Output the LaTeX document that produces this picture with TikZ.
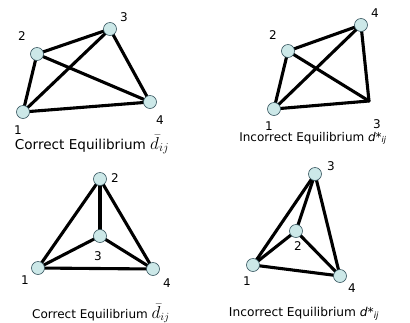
\documentclass[tikz,border=0pt]{standalone}
\usepackage{amsmath}
\usepackage{fontspec}
\setmainfont{DejaVu Sans}
\usepackage{tikz}
\pgfdeclarelayer{background}
\pgfsetlayers{background,main}
\definecolor{nodefill}{RGB}{204,232,232}
\definecolor{nodeline}{RGB}{55,85,95}

\begin{document}
\begin{tikzpicture}[x=1pt,y=-1pt,
  vtx/.style={circle,draw=nodeline,fill=nodefill,line width=0.6pt,minimum size=13pt,inner sep=0pt},
  edge/.style={line width=3.1pt,line cap=round,line join=round},
  lbl/.style={font=\fontsize{12}{12}\selectfont,inner sep=0pt},
  caption/.style={inner sep=0pt,anchor=base}]
\useasboundingbox (0,0) rectangle (410,322);

%%% p1 %%%%
%% vertices
\node[vtx] (p1) at (23,112) {};
\node[vtx] (p2) at (37,54) {};
\node[vtx] (p3) at (110,29) {};
\node[vtx] (p4) at (150,102) {};
%% edges
\begin{pgfonlayer}{background}
\draw[edge] (p1.center) to (p2.center);
\draw[edge] (p2.center) to (p3.center);
\draw[edge] (p1.center) to (p3.center);
\draw[edge] (p2.center) to (p4.center);
\draw[edge] (p3.center) to (p4.center);
\draw[edge] (p1.center) to (p4.center);
\end{pgfonlayer}
%% labels
\node[lbl] (lp1) at (18,130) {1};
\node[lbl] (lp2) at (22,36) {2};
\node[lbl] (lp3) at (124,17) {3};
\node[lbl] (lp4) at (160,120) {4};
\node[caption,font=\fontsize{13.6}{13.6}\selectfont] (cp) at (92,149)
  {Correct Equilibrium {\fontsize{18}{18}\selectfont$\bar{d}_{ij}$}};

%%% q1 %%%%
%% vertices
\node[vtx] (q1) at (274,109) {};
\node[vtx] (q2) at (288,51) {};
\coordinate (q3) at (369,101);
\node[vtx] (q4) at (361,25) {};
%% edges
\begin{pgfonlayer}{background}
\draw[edge] (q1.center) to (q2.center);
\draw[edge] (q2.center) to (q4.center);
\draw[edge] (q1.center) to (q4.center);
\draw[edge] (q2.center) to (q3);
\draw[edge] (q4.center) to (q3);
\draw[edge] (q1.center) to (q3);
\end{pgfonlayer}
%% labels
\node[lbl] (lq1) at (269,126) {1};
\node[lbl] (lq2) at (273,35) {2};
\node[lbl] (lq3) at (377,124) {3};
\node[lbl] (lq4) at (375,13) {4};
\node[caption,font=\fontsize{12}{12}\selectfont] (cq) at (313,141)
  {Incorrect Equilibrium \textit{d*\textsubscript{ij}}};

%%% p2 %%%%
%% vertices
\node[vtx] (r1) at (38,268) {};
\node[vtx] (r2) at (100,179) {};
\node[vtx] (r3) at (100,236) {};
\node[vtx] (r4) at (153,269) {};
%% edges
\begin{pgfonlayer}{background}
\draw[edge] (r1.center) to (r2.center);
\draw[edge] (r2.center) to (r3.center);
\draw[edge] (r1.center) to (r3.center);
\draw[edge] (r3.center) to (r4.center);
\draw[edge] (r2.center) to (r4.center);
\draw[edge] (r1.center) to (r4.center);
\end{pgfonlayer}
%% labels
\node[lbl] (lr1) at (25,280) {1};
\node[lbl] (lr2) at (115,178) {2};
\node[lbl] (lr3) at (98,256) {3};
\node[lbl] (lr4) at (167,283) {4};
\node[caption,font=\fontsize{12}{12}\selectfont] (cr) at (101,318)
  {Correct Equilibrium {\fontsize{16}{16}\selectfont$\bar{d}_{ij}$}};

%%% q2 %%%%
%% vertices
\node[vtx] (s1) at (253,265) {};
\node[vtx] (s2) at (296,231) {};
\node[vtx] (s3) at (315,174) {};
\node[vtx] (s4) at (340,276) {};
%% edges
\begin{pgfonlayer}{background}
\draw[edge] (s1.center) to (s3.center);
\draw[edge] (s3.center) to (s2.center);
\draw[edge] (s1.center) to (s2.center);
\draw[edge] (s2.center) to (s4.center);
\draw[edge] (s3.center) to (s4.center);
\draw[edge] (s1.center) to (s4.center);
\end{pgfonlayer}
%% labels
\node[lbl] (ls1) at (247,281) {1};
\node[lbl] (ls2) at (298,246) {2};
\node[lbl] (ls3) at (331,166) {3};
\node[lbl] (ls4) at (352,288) {4};
\node[caption,font=\fontsize{12.2}{12.2}\selectfont] (cs) at (304,316)
  {Incorrect Equilibrium \textit{d*\textsubscript{ij}}};

\end{tikzpicture}
\end{document}
